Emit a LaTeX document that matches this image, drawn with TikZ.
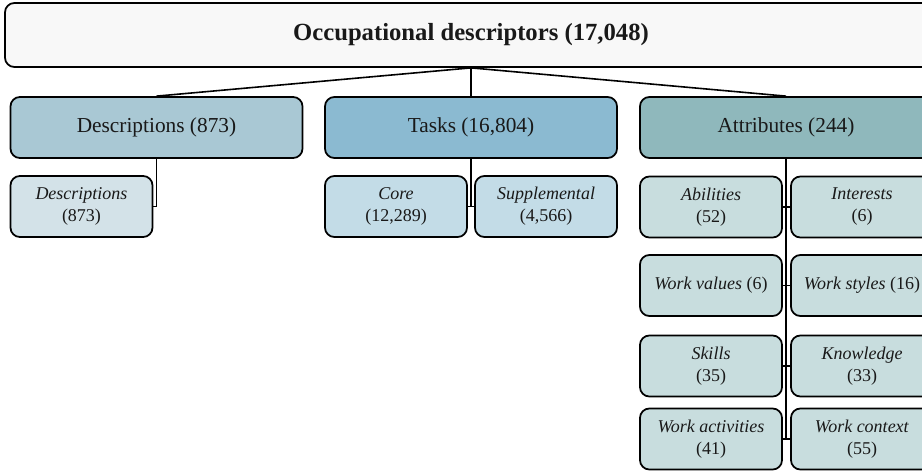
\documentclass[tikz,border=0pt]{standalone}
\usepackage{fontspec}
\setmainfont{Liberation Serif}
\definecolor{ctop}{HTML}{F8F8F8}
\definecolor{cdesc}{HTML}{A9C8D4}
\definecolor{ctask}{HTML}{8BBAD1}
\definecolor{cattr}{HTML}{8FB8BC}
\definecolor{cdescc}{HTML}{D3E2E8}
\definecolor{ctaskc}{HTML}{C3DCE7}
\definecolor{cattrc}{HTML}{C8DDDE}
\tikzset{
  boxbase/.style={draw=black, line width=1.3pt, rounded corners=7pt, inner sep=2pt, align=center, text=black!90},
  topbox/.style={boxbase, fill=ctop, minimum width=699pt, minimum height=48pt, font=\fontsize{18.5}{22}\selectfont\bfseries},
  midbox/.style={boxbase, minimum width=219pt, minimum height=45.75pt, font=\fontsize{16}{19}\selectfont},
  leafbox/.style={boxbase, minimum width=106.5pt, minimum height=45.75pt, font=\fontsize{13.5}{16.5}\selectfont},
  link/.style={draw=black, line width=1.2pt}
}
\begin{document}
\begin{tikzpicture}[x=0.75pt,y=-0.75pt]
\clip (0,0) rectangle (922,471);
\node[topbox] (top) at (471,35) {Occupational descriptors (17,048)};
\node[midbox, fill=cdesc] (desc) at (156.5,127.5) {Descriptions (873)};
\node[midbox, fill=ctask] (task) at (471,127.5) {Tasks (16,804)};
\node[midbox, fill=cattr] (attr) at (786,127.5) {Attributes (244)};
\node[leafbox, fill=cdescc] (descc) at (81.5,206.5) {\textit{Descriptions}\\(873)};
\node[leafbox, fill=ctaskc] (core) at (396,206.5) {\textit{Core}\\(12,289)};
\node[leafbox, fill=ctaskc] (supp) at (546,206.5) {\textit{Supplemental}\\(4,566)};
\node[leafbox, fill=cattrc] (abil) at (711,207) {\textit{Abilities}\\(52)};
\node[leafbox, fill=cattrc] (inter) at (862,207) {\textit{Interests}\\(6)};
\node[leafbox, fill=cattrc] (wval) at (711,285.5) {\textit{Work values} (6)};
\node[leafbox, fill=cattrc] (wsty) at (862,285.5) {\textit{Work styles} (16)};
\node[leafbox, fill=cattrc] (skil) at (711,366) {\textit{Skills}\\(35)};
\node[leafbox, fill=cattrc] (know) at (862,366) {\textit{Knowledge}\\(33)};
\node[leafbox, fill=cattrc] (wact) at (711,439) {\textit{Work activities}\\(41)};
\node[leafbox, fill=cattrc] (wctx) at (862,439) {\textit{Work context}\\(55)};
\draw[link] (top.south) -- (desc.north);
\draw[link] (top.south) -- (task.north);
\draw[link] (top.south) -- (attr.north);
\draw[link] (desc.south) |- (descc.east);
\draw[link] (task.south) |- (core.east);
\draw[link] (task.south) |- (supp.west);
\draw[link] (attr.south) |- (wact.east);
\draw[link] (attr.south) |- (wctx.west);
\draw[link] (abil.east) -- (inter.west);
\draw[link] (wval.east) -- (wsty.west);
\draw[link] (skil.east) -- (know.west);
\end{tikzpicture}
\end{document}
